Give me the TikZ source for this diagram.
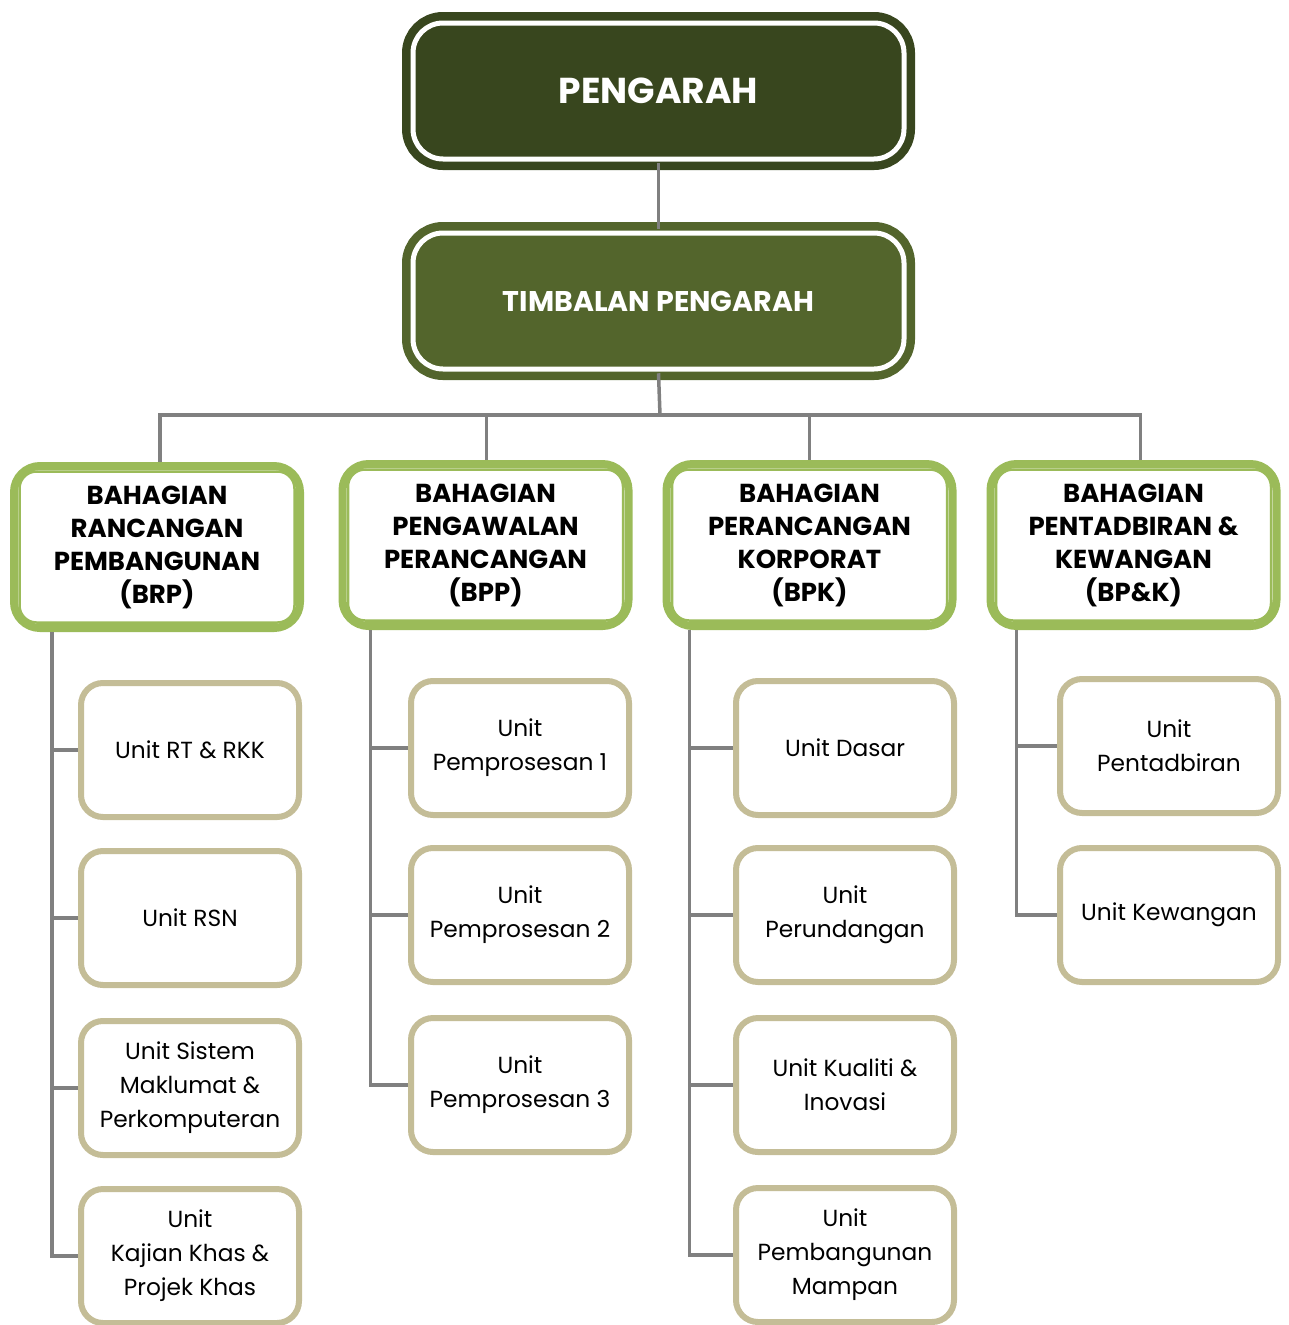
\documentclass[tikz,border=0pt]{standalone}
\usepackage{fontspec}
\setmainfont{Poppins}
\definecolor{topgreen}{RGB}{56,70,30}
\definecolor{midgreen}{RGB}{83,101,44}
\definecolor{divgreen}{RGB}{155,187,89}
\definecolor{unittan}{RGB}{196,189,151}
\definecolor{linegrey}{RGB}{128,128,128}
\tikzset{
  head/.style={draw=#1, fill=#1, line width=8.5pt, double=white, double distance=5pt,
    rounded corners=30pt, minimum width=491pt, minimum height=136pt, text=white},
  division/.style={draw=divgreen, fill=white, line width=8pt, rounded corners=26pt,
    minimum width=286pt, minimum height=162pt, align=center,
    font=\bfseries\fontsize{26}{33}\selectfont},
  innerline/.style={draw=divgreen, line width=2.5pt, rounded corners=17pt},
  unit/.style={draw=unittan, fill=white, line width=6pt, rounded corners=22pt,
    minimum width=218pt, minimum height=134pt, align=center,
    font=\fontsize{23.3}{34}\selectfont},
  link/.style={draw=linegrey, line width=3.5pt}
}
\begin{document}
\begin{tikzpicture}[x=1pt, y=-1pt]
        \useasboundingbox (0,0) rectangle (1288,1325);

        \node[head=topgreen, font=\bfseries\fontsize{36}{40}\selectfont] (n1) at (658.5,91) {PENGARAH};
        \node[head=midgreen, font=\bfseries\fontsize{28.5}{30}\selectfont] (n2) at (658.5,301) {TIMBALAN PENGARAH};

        \node[division] (d1) at (157,547) {BAHAGIAN\\RANCANGAN\\PEMBANGUNAN\\(BRP)};
        \node[division] (d2) at (485.5,545) {BAHAGIAN\\PENGAWALAN\\PERANCANGAN\\(BPP)};
        \node[division] (d3) at (809.5,545) {BAHAGIAN\\PERANCANGAN\\KORPORAT\\(BPK)};
        \node[division] (d4) at (1133.5,545) {BAHAGIAN\\PENTADBIRAN \&\\KEWANGAN\\(BP\&K)};
        \draw[innerline] ([shift={(9.5pt,9.5pt)}]d1.south west) rectangle ([shift={(-9.5pt,-9.5pt)}]d1.north east);
        \draw[innerline] ([shift={(9.5pt,9.5pt)}]d2.south west) rectangle ([shift={(-9.5pt,-9.5pt)}]d2.north east);
        \draw[innerline] ([shift={(9.5pt,9.5pt)}]d3.south west) rectangle ([shift={(-9.5pt,-9.5pt)}]d3.north east);
        \draw[innerline] ([shift={(9.5pt,9.5pt)}]d4.south west) rectangle ([shift={(-9.5pt,-9.5pt)}]d4.north east);

        \node[unit] (u1a) at (190,750) {Unit RT \& RKK};
        \node[unit] (u1b) at (190,918) {Unit RSN};
        \node[unit] (u1c) at (190,1088) {Unit Sistem\\Maklumat \&\\Perkomputeran};
        \node[unit] (u1d) at (190,1256) {Unit\\Kajian Khas \&\\Projek Khas};

        \node[unit] (u2a) at (520,748) {Unit\\Pemprosesan 1};
        \node[unit] (u2b) at (520,915) {Unit\\Pemprosesan 2};
        \node[unit] (u2c) at (520,1085) {Unit\\Pemprosesan 3};

        \node[unit] (u3a) at (845,748) {Unit Dasar};
        \node[unit] (u3b) at (845,915) {Unit\\Perundangan};
        \node[unit] (u3c) at (845,1085) {Unit Kualiti \&\\Inovasi};
        \node[unit] (u3d) at (845,1255) {Unit\\Pembangunan\\Mampan};

        \node[unit] (u4a) at (1169,746) {Unit\\Pentadbiran};
        \node[unit] (u4b) at (1169,915) {Unit Kewangan};

        \coordinate (bar) at (660,415);
        \draw[link] (n1.south) -- (n2.north);
        \draw[link] (n2.south) -- (bar);
        \draw[link] (bar) -| ([xshift=3pt]d1.north);
        \draw[link] (bar) -| ([xshift=1pt]d2.north);
        \draw[link] (bar) -| (d3.north);
        \draw[link] (bar) -| ([xshift=7pt]d4.north);

        \draw[link] ([xshift=42pt]d1.south west) |- (u1a.west);
        \draw[link] ([xshift=42pt]d1.south west) |- (u1b.west);
        \draw[link] ([xshift=42pt]d1.south west) |- (u1c.west);
        \draw[link] ([xshift=42pt]d1.south west) |- (u1d.west);

        \draw[link] ([xshift=32pt]d2.south west) |- (u2a.west);
        \draw[link] ([xshift=32pt]d2.south west) |- (u2b.west);
        \draw[link] ([xshift=32pt]d2.south west) |- (u2c.west);

        \draw[link] ([xshift=27pt]d3.south west) |- (u3a.west);
        \draw[link] ([xshift=27pt]d3.south west) |- (u3b.west);
        \draw[link] ([xshift=27pt]d3.south west) |- (u3c.west);
        \draw[link] ([xshift=27pt]d3.south west) |- (u3d.west);

        \draw[link] ([xshift=30pt]d4.south west) |- (u4a.west);
        \draw[link] ([xshift=30pt]d4.south west) |- (u4b.west);
\end{tikzpicture}
\end{document}
